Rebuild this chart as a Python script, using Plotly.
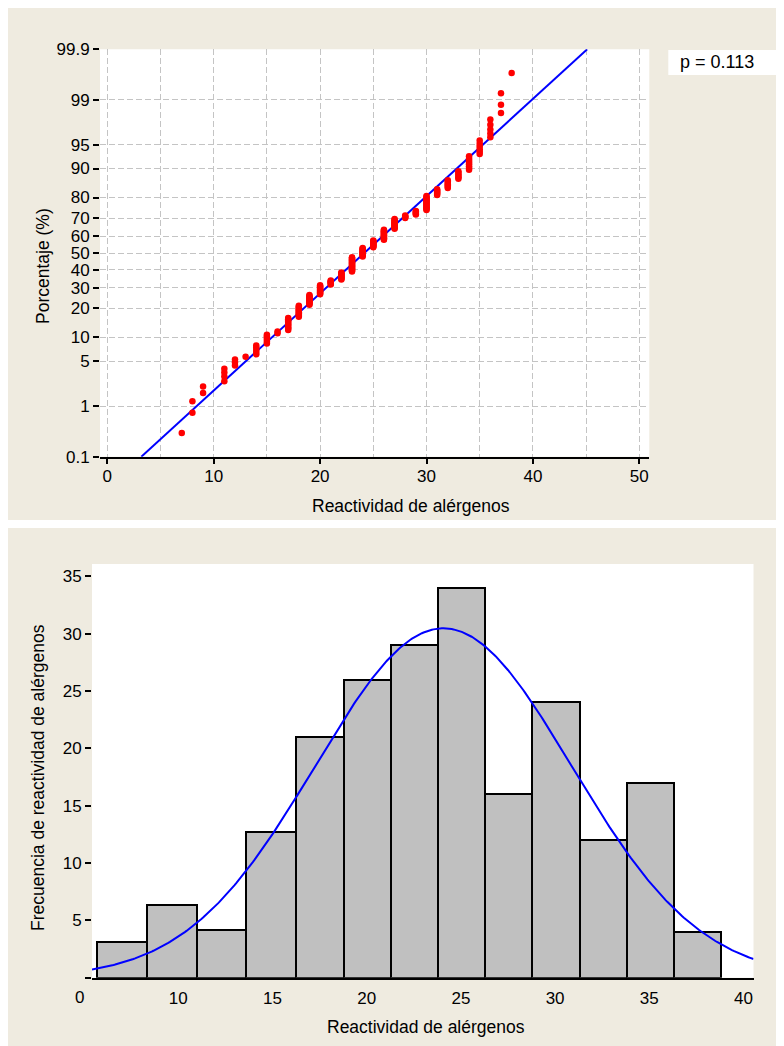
import numpy as np
import plotly.graph_objects as go
from statistics import NormalDist

# page body has an 8px margin: figure is sized to fill the rest of the window
OX, OY = 8, 8
W, H = 784 - OX, 1046 - OY
nd = NormalDist()

# ---------------- data: normal probability plot ----------------
reactivity_values = list(range(7, 39))
value_counts = [1, 2, 2, 0, 4, 3, 1, 5, 6, 2, 10, 11, 11, 11, 6, 10, 20, 12,
                10, 14, 13, 4, 5, 15, 6, 7, 6, 8, 6, 5, 3, 1]
prob_ticks = [0.1, 1, 5, 10, 20, 30, 40, 50, 60, 70, 80, 90, 95, 99, 99.9]
prob_tick_labels = ["0.1", "1", "5", "10", "20", "30", "40", "50", "60",
                    "70", "80", "90", "95", "99", "99.9"]
prob_x_ticks = [0, 10, 20, 30, 40, 50]
fit_mean = 24.15
fit_sd = 6.78
p_value_text = "p = 0.113"

# ---------------- data: histogram ----------------
bin_edges = [5.70, 8.32, 10.98, 13.59, 16.25, 18.80, 21.28, 23.78, 26.30,
             28.79, 31.30, 33.80, 36.31, 38.81]
bin_heights = [3.1, 6.3, 4.2, 12.7, 21.0, 26.0, 29.0, 34.0, 16.0, 24.0,
               12.0, 17.0, 4.0]
hist_x_ticks = [10, 15, 20, 25, 30, 35, 40]
hist_y_ticks = [0, 5, 10, 15, 20, 25, 30, 35]
hist_y_labels = ["", "5", "10", "15", "20", "25", "30", "35"]
curve_mu = 24.07
curve_sigma = 6.8
curve_peak = 30.46

x_title = "Reactividad de alérgenos"
y_title_top = "Porcentaje (%)"
y_title_bottom = "Frecuencia de reactividad de alérgenos"

# ---------------- derived ----------------
obs = np.repeat(reactivity_values, value_counts)
n = len(obs)
ranks = np.arange(1, n + 1)
pct = (ranks - 0.3) / (n + 0.4)
z_obs = [nd.inv_cdf(p) for p in pct]
z_ticks = [nd.inv_cdf(p / 100) for p in prob_ticks]
z_lo, z_hi = z_ticks[0], z_ticks[-1]
line_z = [z_lo, z_hi]
line_x = [fit_mean + fit_sd * z for z in line_z]

edges = np.array(bin_edges)
mids = (edges[:-1] + edges[1:]) / 2
widths = np.diff(edges)

def px(x):
    return max(0.0, min(1.0, (x - OX) / W))

def py(y):
    return max(0.0, min(1.0, 1 - (y - OY) / H))

# axis frames (window pixel layout)
top_x_dom = [px(100), px(649.3)]
top_y_dom = [py(456.7), py(49.3)]
top_x_range = [-0.686, 50.94]
bot_x_dom = [px(92), px(753.5)]
bot_y_dom = [py(977.7), py(564)]
bot_x_range = [5.419, 40.53]
bot_y_range = [0, 36.07]

curve_x = np.linspace(bot_x_range[0], bot_x_range[1], 400)
curve_y = curve_peak * np.exp(-0.5 * ((curve_x - curve_mu) / curve_sigma) ** 2)

FONT = "Liberation Sans, Arial, sans-serif"
FS = 17.5
FT = 17
BEIGE = "#EFEBE0"
GRID = "#C4C4C4"

fig = go.Figure()
fig.add_trace(go.Scatter(x=line_x, y=line_z, mode="lines",
                         line=dict(color="#0000FF", width=2),
                         xaxis="x", yaxis="y", showlegend=False, hoverinfo="skip"))
fig.add_trace(go.Scatter(x=obs, y=z_obs, mode="markers",
                         marker=dict(color="#FF0000", size=6.5, line=dict(width=0)),
                         xaxis="x", yaxis="y", showlegend=False))
fig.add_trace(go.Bar(x=mids, y=bin_heights, width=widths,
                     marker=dict(color="#C0C0C0", line=dict(color="black", width=2)),
                     xaxis="x2", yaxis="y2", showlegend=False))
fig.add_trace(go.Scatter(x=curve_x, y=curve_y, mode="lines",
                         line=dict(color="#0000FF", width=2),
                         xaxis="x2", yaxis="y2", showlegend=False, hoverinfo="skip"))

shapes = [
    dict(type="rect", xref="paper", yref="paper", x0=px(8), x1=1, y0=py(520), y1=py(5),
         fillcolor=BEIGE, line=dict(width=0), layer="below"),
    dict(type="rect", xref="paper", yref="paper", x0=px(7), x1=1, y0=0, y1=py(528),
         fillcolor=BEIGE, line=dict(width=0), layer="below"),
    dict(type="rect", xref="x domain", yref="y domain", x0=0, x1=1, y0=0, y1=1,
         fillcolor="white", line=dict(width=0), layer="below"),
    dict(type="rect", xref="x2 domain", yref="y2 domain", x0=0, x1=1, y0=0, y1=1,
         fillcolor="white", line=dict(width=0), layer="below"),
    dict(type="rect", xref="paper", yref="paper", x0=px(668.3), x1=px(777.7),
         y0=py(75), y1=py(50), fillcolor="white", line=dict(width=0), layer="below"),
]

ann_font = dict(family=FONT, size=FS, color="black")
annotations = [
    dict(text=x_title, xref="paper", yref="paper", x=px(410.5), y=py(506),
         xanchor="center", yanchor="middle", showarrow=False, font=ann_font),
    dict(text=y_title_top, xref="paper", yref="paper", x=px(42.5), y=py(266.5),
         xanchor="center", yanchor="middle", textangle=-90, showarrow=False, font=ann_font),
    dict(text=x_title, xref="paper", yref="paper", x=px(426), y=py(1027),
         xanchor="center", yanchor="middle", showarrow=False, font=ann_font),
    dict(text=y_title_bottom, xref="paper", yref="paper", x=px(38), y=py(778),
         xanchor="center", yanchor="middle", textangle=-90, showarrow=False, font=ann_font),
    dict(text="0", xref="paper", yref="paper", x=px(79), y=py(997),
         xanchor="center", yanchor="middle", showarrow=False,
         font=dict(family=FONT, size=FT, color="black")),
    dict(text=p_value_text, xref="paper", yref="paper", x=px(678), y=py(62.5),
         xanchor="left", yanchor="middle", showarrow=False,
         font=dict(family=FONT, size=18, color="black")),
]

tick_font = dict(family=FONT, size=FT, color="black")

fig.update_layout(
    width=W, height=H,
    margin=dict(l=0, r=0, t=0, b=0),
    paper_bgcolor="white",
    plot_bgcolor="rgba(0,0,0,0)",
    showlegend=False,
    shapes=shapes,
    annotations=annotations,
    xaxis=dict(domain=top_x_dom, range=top_x_range, anchor="y",
               tickmode="array", tickvals=prob_x_ticks, ticks="outside",
               ticklen=5, tickwidth=2, tickcolor="black", ticklabelstandoff=-2,
               showline=True, linecolor="black", linewidth=2,
               showgrid=True, gridcolor=GRID, griddash="6px,3px", gridwidth=1,
               minor=dict(dtick=5, tick0=0, showgrid=True, gridcolor=GRID,
                          griddash="6px,3px", gridwidth=1, ticks=""),
               zeroline=False, tickfont=tick_font, automargin=False),
    yaxis=dict(domain=top_y_dom, range=[z_lo, z_hi], anchor="x",
               tickmode="array", tickvals=z_ticks, ticktext=prob_tick_labels,
               ticks="outside", ticklen=6, tickwidth=2, tickcolor="black",
               showline=False, showgrid=True, gridcolor=GRID,
               griddash="6px,3px", gridwidth=1,
               zeroline=False, tickfont=tick_font, automargin=False),
    xaxis2=dict(domain=bot_x_dom, range=bot_x_range, anchor="y2",
                tickmode="array", tickvals=hist_x_ticks, ticks="",
                ticklabelstandoff=4,
                showline=True, linecolor="black", linewidth=2,
                showgrid=False, zeroline=False, tickfont=tick_font, automargin=False),
    yaxis2=dict(domain=bot_y_dom, range=bot_y_range, anchor="x2",
                tickmode="array", tickvals=hist_y_ticks, ticktext=hist_y_labels,
                ticks="outside", ticklen=6, tickwidth=2, tickcolor="black",
                showline=False, showgrid=False, zeroline=False,
                tickfont=tick_font, automargin=False),
    bargap=0,
)

fig.write_html("out.html")
